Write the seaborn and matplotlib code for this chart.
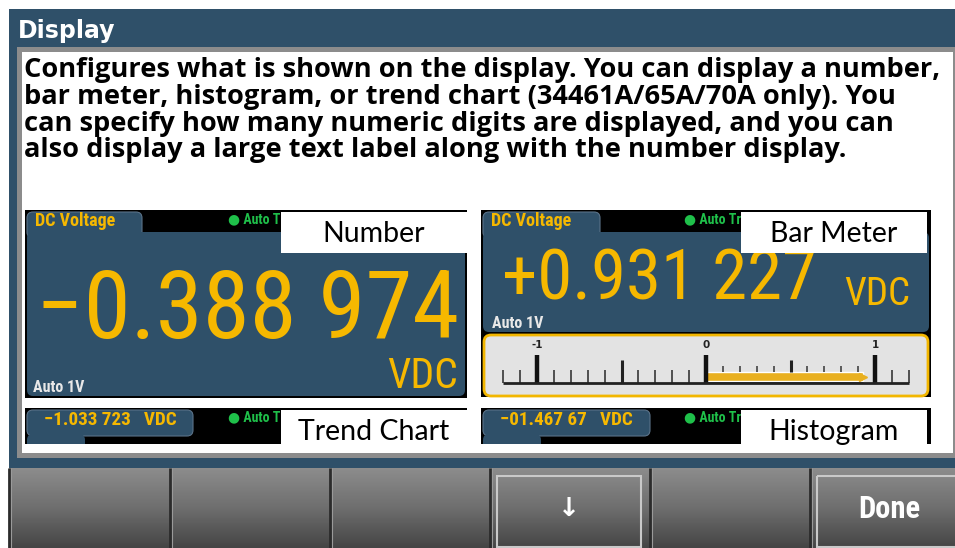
import numpy as np
import matplotlib
matplotlib.use("Agg")
import matplotlib.pyplot as plt
import seaborn as sns
from matplotlib.patches import Rectangle, FancyBboxPatch
from matplotlib.colors import LinearSegmentedColormap

# Screen text
title = "Display"
help_lines = [
    "Configures what is shown on the display. You can display a number,",
    "bar meter, histogram, or trend chart (34461A/65A/70A only). You",
    "can specify how many numeric digits are displayed, and you can",
    "also display a large text label along with the number display.",
]

# The four display modes shown as thumbnails
mode_labels = ["Number", "Bar Meter", "Trend Chart", "Histogram"]
tab_labels = ["DC Voltage", "DC Voltage", "\u22121.033 723   VDC", "\u221201.467 67   VDC"]
readings = ["\u22120.388 974", "+0.931 227"]
units = ["VDC", "VDC"]
range_label = "Auto 1V"
trigger_label = "\u25cf Auto Trig"

# Bar meter
meter_value = 0.931227
meter_labels = [-1, 0, 1]

# Softkeys along the bottom
softkeys = ["", "", "", "\u2193", "", "Done"]

# Colours
BLUE = "#2f5069"
YELLOW = "#f6b800"
GREEN = "#1fc04a"
NARROW = ["Roboto Condensed", "Roboto", "DejaVu Sans"]

sns.set_style("white")

fig = plt.figure(figsize=(9.55, 5.48), dpi=100)
ax = fig.add_axes([0, 0, 1, 1])
ax.set_xlim(0, 955)
ax.set_ylim(548, 0)
ax.axis("off")

# Outer frame, header and content area
ax.add_patch(Rectangle((9, 9), 946, 459, fc=BLUE, ec="none", zorder=0))
ax.add_patch(Rectangle((17, 47), 938, 411, fc="#8c8c8c", ec="none", zorder=0.5))
ax.add_patch(Rectangle((22, 52), 931, 401, fc="white", ec="none", zorder=0.6))
ax.text(18, 31, title, color="white", fontsize=17, fontweight="bold",
        family="DejaVu Sans", va="center", ha="left")

for i, line in enumerate(help_lines):
    ax.text(24, 77 + i * 26.8, line, color="black", fontsize=19.6, fontweight="bold",
            family=["Open Sans", "DejaVu Sans"], va="baseline", ha="left")

# Clip for the two half-visible thumbnails at the bottom
clip = Rectangle((0, 0), 955, 444, transform=ax.transData)


def panel(x0, x1, y0, y1, body_bottom, tab_w, label, label_x, tab_text, tab_size, clipped=False):
    arts = []
    arts.append(ax.add_patch(Rectangle((x0, y0), x1 - x0, y1 - y0, fc="black", ec="none", zorder=2)))
    arts.append(ax.add_patch(FancyBboxPatch((x0 + 2, y0 + 2), tab_w, 26,
                                            boxstyle="round,pad=0,rounding_size=6",
                                            fc=BLUE, ec="#5a7288", lw=0.8, zorder=3)))
    if body_bottom is not None:
        arts.append(ax.add_patch(FancyBboxPatch((x0 + 2, y0 + 22), x1 - x0 - 4, body_bottom - y0 - 22,
                                                boxstyle="round,pad=0,rounding_size=6",
                                                fc=BLUE, ec="none", zorder=3)))
        arts.append(ax.text(x0 + 10, y0 + 11, tab_text, color=YELLOW, fontsize=tab_size,
                            fontweight="bold", family=NARROW, va="center", ha="left", zorder=4))
    else:
        arts.append(ax.text(x0 + 2 + tab_w / 2, y0 + 12, tab_text, color=YELLOW, fontsize=tab_size,
                            fontweight="bold", family=NARROW, va="center", ha="center", zorder=4))
    arts.append(ax.text(x0 + 203, y0 + 10, trigger_label, color=GREEN, fontsize=10,
                        fontweight="bold", family=NARROW, va="center", ha="left", zorder=4))
    arts.append(ax.add_patch(Rectangle((label_x, y0 + 2), 186, 41, fc="white", ec="none", zorder=5)))
    arts.append(ax.text(label_x + 93, y0 + 24, label, color="black", fontsize=20.5,
                        family=["Lato", "DejaVu Sans"], va="center", ha="center", zorder=6))
    if clipped:
        arts.append(ax.add_patch(FancyBboxPatch((x0 + 2, y0 + 26), 58, 24,
                                                boxstyle="round,pad=0,rounding_size=6",
                                                fc=BLUE, ec="none", zorder=3)))
        for a in arts:
            a.set_clip_path(clip)
    return arts


# Number thumbnail
panel(25, 467, 210, 398, 396, 115, mode_labels[0], 281, tab_labels[0], 13)
ax.text(248, 338, readings[0], color=YELLOW, fontsize=68.5, family=NARROW,
        va="baseline", ha="center", zorder=4)
ax.text(458, 388, units[0], color=YELLOW, fontsize=30, family=NARROW,
        va="baseline", ha="right", zorder=4)
ax.text(33, 392, range_label, color="#e8e8e8", fontsize=11.5, fontweight="bold",
        family=NARROW, va="baseline", ha="left", zorder=4)

# Bar meter thumbnail
panel(481, 931, 210, 397, 332, 117, mode_labels[1], 741, tab_labels[1], 13)
ax.text(659, 300, readings[1], color=YELLOW, fontsize=51, family=NARROW,
        va="baseline", ha="center", zorder=4)
ax.text(910, 305, units[1], color=YELLOW, fontsize=28, family=NARROW,
        va="baseline", ha="right", zorder=4)
ax.text(492, 328, range_label, color="#e8e8e8", fontsize=11.5, fontweight="bold",
        family=NARROW, va="baseline", ha="left", zorder=4)
ax.add_patch(FancyBboxPatch((484, 335), 444, 61, boxstyle="round,pad=0,rounding_size=7",
                            fc="#e3e3e3", ec="#f2b600", lw=2, zorder=3))

# Trend chart and histogram thumbnails (cut off by the scroll area)
panel(25, 467, 408, 460, None, 166, mode_labels[2], 281, tab_labels[2], 13.8, clipped=True)
panel(481, 931, 408, 460, None, 167, mode_labels[3], 741, tab_labels[3], 13.8, clipped=True)

# Bar meter scale, drawn in its own axes (x in volts, y in pixels from bar centre)
meter = fig.add_axes([486 / 955, 1 - 392 / 548, 440 / 955, 52 / 548])
sns.barplot(x=[meter_value], y=[0], orient="h", width=9, color="#e9b020",
            saturation=1, ax=meter, zorder=3)
meter.hlines(5.2, 0, meter_value, color="#3a3a3a", lw=2, zorder=2)
ticks = np.round(np.arange(-12, 13) / 10, 1)
for t in ticks:
    if t in (-1.0, 0.0, 1.0):
        meter.vlines(t, -21.5, 6.5, color="#111111", lw=3.2, zorder=4)
    elif abs(t) == 0.5:
        if t < 0:
            meter.vlines(t, -16.5, 6.5, color="#222222", lw=2.2, zorder=4)
        else:
            meter.vlines(t, -16.5, -5, color="#222222", lw=2.2, zorder=4)
    elif 0 < t < 1:
        meter.vlines(t, -11, -5, color="#444444", lw=1.2, zorder=4)
    else:
        meter.vlines(t, -6.5, 6.5, color="#444444", lw=1.3, zorder=4)
meter.hlines(6.5, -1.2, 1.2, color="#222222", lw=2, zorder=4)
meter.plot([meter_value], [0], marker=">", ms=6, color="#e9b020", zorder=3)
for v in meter_labels:
    meter.text(v, -31, str(v), color="#222222", fontsize=7.5, fontweight="bold",
               va="center", ha="center")
meter.set_xlim(-220 / 169, 220 / 169)
meter.set_ylim(15.5, -36.5)
meter.axis("off")

# Softkey bar with a vertical grey gradient
grey = LinearSegmentedColormap.from_list("keys", ["#8c8c8c", "#6e6e6e", "#454545"])
ax.imshow(np.linspace(0, 1, 80).reshape(-1, 1), cmap=grey, aspect="auto",
          extent=(9, 955, 548, 468), zorder=1)
key_edges = [9, 170, 330, 490, 650, 810]
for i, key in enumerate(softkeys):
    x0 = key_edges[i]
    ax.vlines(x0, 468, 548, color="#2b2b2b", lw=2, zorder=2)
    ax.vlines(x0 + 2, 468, 548, color="#9a9a9a", lw=0.8, zorder=2)
    if key:
        ax.add_patch(Rectangle((x0 + 7, 476), 144, 71, fc="none", ec="#c9c9c9", lw=1.5, zorder=2))
        ax.text(x0 + 79, 509, key, color="white", fontsize=22 if key == "Done" else 19,
                fontweight="bold", family=NARROW if key == "Done" else "DejaVu Sans",
                va="center", ha="center", zorder=3)

fig.savefig("out.png", dpi=100)
